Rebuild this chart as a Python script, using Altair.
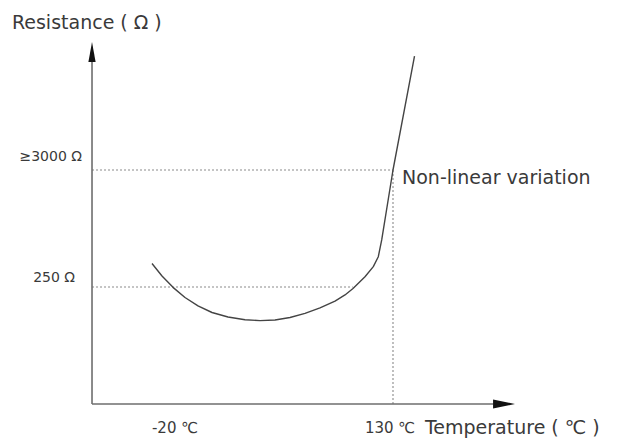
import altair as alt
import pandas as pd

# ---- schematic data (x: temperature in degC, y: resistance level, 250 Ohm = 1, 3000 Ohm = 2)
curve_t = [-35.83, -28.94, -21.38, -13.12, -4.17, 5.46, 16.47, 28.17, 38.49, 48.81, 59.13,
           69.45, 79.77, 90.09, 96.97, 102.48, 110.73, 116.45, 119.89, 122.23, 130.0, 144.8]
curve_r = [1.201, 1.094, 0.997, 0.910, 0.838, 0.782, 0.744, 0.720, 0.713, 0.718, 0.739,
           0.774, 0.821, 0.880, 0.932, 0.987, 1.088, 1.174, 1.259, 1.402, 2.0, 2.974]

origin_t = -77.1
axis_x_end = 200.2
axis_y_end = 3.04

ref_x1 = [origin_t, 130.0, origin_t]
ref_x2 = [130.0, 130.0, 102.3]
ref_y1 = [2.0, 2.0, 1.0]
ref_y2 = [2.0, 0.0, 1.0]

label_text = ["Resistance ( Ω )", "≥3000 Ω", "250 Ω", "Non-linear variation",
              "-20 ℃", "130 ℃", "Temperature ( ℃ )"]
label_t = [-132.2, -84.0, -88.8, 136.2, -20.0, 128.0, 152.0]
label_r = [3.256, 2.11, 1.077, 1.932, -0.205, -0.205, -0.205]
label_align = ["left", "right", "right", "left", "center", "center", "left"]
label_size = [19, 14, 14, 19, 15, 15, 19]

# ---- scales
k = 218 / 150.0
x_scale = alt.Scale(domain=[-20 - 175 / k, -20 + 450 / k], nice=False, zero=False)
y_scale = alt.Scale(domain=[-37 / 117.0, 404 / 117.0], nice=False, zero=False)

curve_df = pd.DataFrame({"t": curve_t, "r": curve_r})
ref_df = pd.DataFrame({"x1": ref_x1, "x2": ref_x2, "y1": ref_y1, "y2": ref_y2})
axes_df = pd.DataFrame({"x1": [origin_t, origin_t], "x2": [origin_t, axis_x_end],
                        "y1": [0.0, 0.0], "y2": [axis_y_end, 0.0]})
arrow_df = pd.DataFrame({"t": [origin_t, 206.4], "r": [3.009, 0.0],
                         "shape": ["up", "right"]})
label_df = pd.DataFrame({"text": label_text, "t": label_t, "r": label_r,
                         "align": label_align, "size": label_size})

X = lambda f: alt.X(f, type="quantitative", scale=x_scale, axis=None)
Y = lambda f: alt.Y(f, type="quantitative", scale=y_scale, axis=None)

refs = alt.Chart(ref_df).mark_rule(color="#8a8a8a", strokeWidth=1.1, strokeDash=[2, 2]).encode(
    x=X("x1"), x2="x2", y=Y("y1"), y2="y2")

axes = alt.Chart(axes_df).mark_rule(color="#6e6e6e", strokeWidth=1.6).encode(
    x=X("x1"), x2="x2", y=Y("y1"), y2="y2")

up_path = "M0,-1L0.36,1L-0.36,1Z"
right_path = "M1,0L-1,0.42L-1,-0.42Z"
arrow_up = alt.Chart(arrow_df[arrow_df["shape"] == "up"]).mark_point(
    shape=up_path, filled=True, color="#111111", opacity=1, size=400).encode(x=X("t"), y=Y("r"))
arrow_right = alt.Chart(arrow_df[arrow_df["shape"] == "right"]).mark_point(
    shape=right_path, filled=True, color="#111111", opacity=1, size=480).encode(x=X("t"), y=Y("r"))

curve = alt.Chart(curve_df).mark_line(color="#444444", strokeWidth=1.4, interpolate="linear",
                                      strokeJoin="round").encode(x=X("t"), y=Y("r"))

texts = []
for al in ["left", "right", "center"]:
    sub = label_df[label_df["align"] == al]
    for sz in sorted(sub["size"].unique()):
        s2 = sub[sub["size"] == sz]
        texts.append(alt.Chart(s2).mark_text(align=al, baseline="middle", font="DejaVu Sans",
                                             fontSize=int(sz), color="#3a3a3a").encode(
            x=X("t"), y=Y("r"), text="text"))

chart = alt.layer(refs, axes, curve, arrow_up, arrow_right, *texts).properties(
    width=625, height=441, autosize=alt.AutoSizeParams(type="none"), padding=0,
    background="white"
).configure_view(stroke=None)

chart.save("out.html", embed_options={"renderer": "svg", "actions": False})
